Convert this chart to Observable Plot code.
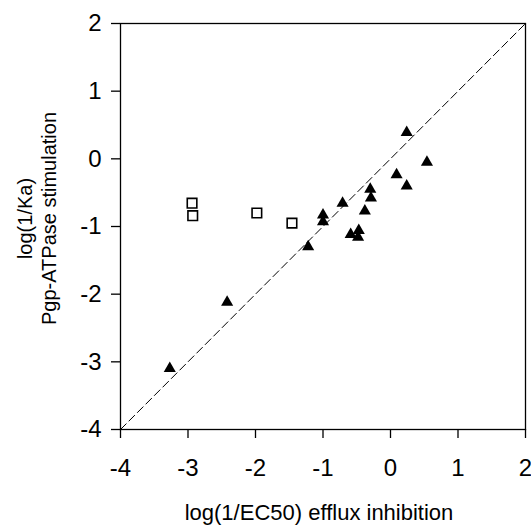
<!DOCTYPE html>
<html>
<head>
<meta charset="utf-8">
<script src="https://cdn.jsdelivr.net/npm/d3@7"></script>
<script src="https://cdn.jsdelivr.net/npm/@observablehq/plot@0.6"></script>
<style>
  html, body { margin: 0; padding: 0; background: white; }
</style>
</head>
<body>
<div id="chart"></div>
<script>
// Filled triangles: log(1/EC50) efflux inhibition vs log(1/Ka) Pgp-ATPase stimulation
const triX = [-3.27, -2.42, -1.22, -1.00, -1.00, -0.71, -0.59, -0.47, -0.48, -0.38, -0.30, -0.29, 0.09, 0.24, 0.24, 0.54];
const triY = [-3.10, -2.12, -1.30, -0.83, -0.93, -0.655, -1.12, -1.06, -1.16, -0.77, -0.45, -0.58, -0.236, 0.39, -0.40, -0.05];
// Open squares
const sqX = [-2.94, -2.93, -1.98, -1.46];
const sqY = [-0.655, -0.84, -0.80, -0.95];
// Axis ticks
const xTicks = [-4, -3, -2, -1, 0, 1, 2];
const yTicks = [-4, -3, -2, -1, 0, 1, 2];
const xTitle = "log(1/EC50) efflux inhibition";
const yTitle = "log(1/Ka)\nPgp-ATPase stimulation";

const tri = triX.map((x, i) => ({x, y: triY[i]}));
const sq = sqX.map((x, i) => ({x, y: sqY[i]}));
const xDom = [xTicks[0], xTicks[xTicks.length - 1]];
const diag = xDom.map(v => ({x: v, y: v}));
const fmt = d => String(d);

const chart = Plot.plot({
  width: 531,
  height: 525,
  marginLeft: 120,
  marginRight: 6,
  marginTop: 23,
  marginBottom: 96,
  style: {fontFamily: "Arial, 'Liberation Sans', sans-serif", fontSize: "24px", background: "white", color: "black"},
  x: {domain: xDom},
  y: {domain: [yTicks[0], yTicks[yTicks.length - 1]]},
  marks: [
    Plot.line(diag, {x: "x", y: "y", stroke: "black", strokeWidth: 1, strokeDasharray: "8,4"}),
    Plot.frame({stroke: "black", strokeWidth: 1.3}),
    Plot.axisX({ticks: xTicks, tickFormat: fmt, tickSize: 9, tickPadding: 20, fontSize: 24, label: null, strokeWidth: 1.3}),
    Plot.axisY({ticks: yTicks, tickFormat: fmt, tickSize: 9, tickPadding: 10, fontSize: 24, label: null, strokeWidth: 1.3}),
    Plot.dot(tri, {x: "x", y: "y", symbol: "triangle", r: 4.5, fill: "black", stroke: "none"}),
    Plot.dot(sq, {x: "x", y: "y", symbol: "square", r: 5.4, fill: "white", stroke: "black", strokeWidth: 1.6}),
    Plot.text([xTitle], {frameAnchor: "bottom", text: d => d, dy: 90, dx: -4, lineAnchor: "bottom", fontSize: 22}),
    Plot.text([yTitle], {frameAnchor: "left", text: d => d, rotate: -90, dx: -84, dy: -8, textAnchor: "middle", lineAnchor: "middle", fontSize: 20, lineHeight: 1.2})
  ]
});
document.getElementById("chart").appendChild(chart);
</script>
</body>
</html>
